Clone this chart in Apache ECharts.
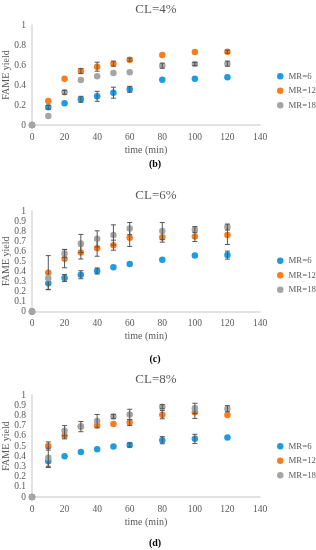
<!DOCTYPE html>
<html><head><meta charset="utf-8">
<script src="https://cdn.jsdelivr.net/npm/echarts@6/dist/echarts.min.js"></script>
<style>html,body{margin:0;padding:0;background:#fff}#c{width:316px;height:550px}</style>
</head><body><div id="c"></div>
<script>
// Data
const times = [0, 10, 20, 30, 40, 50, 60, 80, 100, 120];
const seriesNames = ['MR=6', 'MR=12', 'MR=18'];
const panelTitles = ['CL=4%', 'CL=6%', 'CL=8%'];
const panelCaptions = ['(b)', '(c)', '(d)'];
const xTicks = [0, 20, 40, 60, 80, 100, 120, 140];

// CL=4%
const cl4_mr6  = [0, 0.177, 0.217, 0.257, 0.287, 0.323, 0.357, 0.453, 0.463, 0.477];
const cl4_mr12 = [0, 0.24, 0.463, 0.54, 0.583, 0.613, 0.653, 0.70, 0.73, 0.733];
const cl4_mr18 = [0, 0.09, 0.327, 0.45, 0.487, 0.52, 0.527, 0.593, 0.61, 0.613];
const cl4_mr6_err  = [0, 0.02, 0, 0.03, 0.05, 0.055, 0.03, 0, 0, 0];
const cl4_mr12_err = [0, 0, 0, 0.025, 0.045, 0.025, 0.015, 0, 0, 0.015];
const cl4_mr18_err = [0, 0, 0.02, 0, 0, 0, 0, 0.025, 0.015, 0.025];

// CL=6%
const cl6_mr6  = [0, 0.28, 0.333, 0.366, 0.403, 0.44, 0.473, 0.515, 0.558, 0.561];
const cl6_mr12 = [0, 0.386, 0.525, 0.587, 0.63, 0.66, 0.733, 0.74, 0.746, 0.762];
const cl6_mr18 = [0, 0.33, 0.578, 0.677, 0.723, 0.762, 0.825, 0.80, 0.815, 0.84];
const cl6_mr6_err  = [0, 0.06, 0.035, 0.04, 0.03, 0, 0, 0, 0, 0.04];
const cl6_mr12_err = [0, 0.17, 0.09, 0.065, 0.08, 0.05, 0.085, 0.05, 0.05, 0.095];
const cl6_mr18_err = [0, 0, 0.04, 0.09, 0.08, 0.1, 0.06, 0.085, 0.03, 0.03];

// CL=8%
const cl8_mr6  = [0, 0.351, 0.40, 0.44, 0.469, 0.495, 0.51, 0.557, 0.57, 0.584];
const cl8_mr12 = [0, 0.50, 0.60, 0.69, 0.70, 0.715, 0.73, 0.807, 0.83, 0.803];
const cl8_mr18 = [0, 0.384, 0.65, 0.69, 0.744, 0.79, 0.81, 0.885, 0.869, 0.866];
const cl8_mr6_err  = [0, 0.05, 0, 0, 0, 0, 0.02, 0.035, 0.045, 0];
const cl8_mr12_err = [0, 0.04, 0.03, 0, 0, 0, 0.03, 0.04, 0.06, 0];
const cl8_mr18_err = [0, 0.095, 0.05, 0.05, 0.065, 0.02, 0.05, 0.02, 0.05, 0.03];

const panels = [
  { vals: [cl4_mr6, cl4_mr12, cl4_mr18], errs: [cl4_mr6_err, cl4_mr12_err, cl4_mr18_err], yInterval: 0.2 },
  { vals: [cl6_mr6, cl6_mr12, cl6_mr18], errs: [cl6_mr6_err, cl6_mr12_err, cl6_mr18_err], yInterval: 0.1 },
  { vals: [cl8_mr6, cl8_mr12, cl8_mr18], errs: [cl8_mr6_err, cl8_mr12_err, cl8_mr18_err], yInterval: 0.1 }
];

const colors = ['#1f9be0', '#f97d1e', '#a5a5a5'];
const FONT = '"Liberation Serif", "Times New Roman", serif';
const TXT = '#595959';
const AXIS = '#d9d9d9';

const layout = [
  { top: 25, height: 100, title: 3, cap: 159, legend: 69 },
  { top: 211, height: 100.5, title: 189, cap: 354, legend: 253.5 },
  { top: 395, height: 102, title: 373, cap: 538, legend: 439 }
];

const grids = [], xAxes = [], yAxes = [], series = [], titles = [], legends = [];

panels.forEach((p, gi) => {
  const L = layout[gi];
  grids.push({ left: 32, width: 228, top: L.top, height: L.height, containLabel: false, outerBoundsMode: 'none' });
  xAxes.push({
    gridIndex: gi, type: 'value', min: 0, max: 140, interval: 20,
    name: 'time (min)', nameLocation: 'middle', nameGap: 20,
    nameTextStyle: { fontFamily: FONT, fontSize: 10, color: TXT },
    axisLine: { show: true, lineStyle: { color: AXIS, width: 1.5 } },
    axisTick: { show: false }, splitLine: { show: false },
    axisLabel: { fontFamily: FONT, fontSize: 9.5, color: TXT, margin: 7 }
  });
  yAxes.push({
    gridIndex: gi, type: 'value', min: 0, max: 1, interval: p.yInterval,
    name: 'FAME yield', nameLocation: 'middle', nameGap: 21, nameMoveOverlap: false,
    nameTextStyle: { fontFamily: FONT, fontSize: 10, color: TXT },
    axisLine: { show: true, lineStyle: { color: AXIS, width: 1.5 } },
    axisTick: { show: false }, splitLine: { show: false },
    axisLabel: { fontFamily: FONT, fontSize: 9.5, color: TXT, margin: 6,
      formatter: v => String(Math.round(v * 10) / 10) }
  });
  titles.push({ text: panelTitles[gi], left: 156, textAlign: 'center', top: L.title, padding: 0,
    textStyle: { fontFamily: FONT, fontSize: 13, fontWeight: 'normal', color: TXT } });
  titles.push({ text: panelCaptions[gi], left: 155, textAlign: 'center', top: L.cap, padding: 0,
    textStyle: { fontFamily: FONT, fontSize: 10, fontWeight: 'bold', color: '#000' } });
  legends.push({
    data: seriesNames.map(n => ({ name: n, icon: 'circle' })),
    orient: 'vertical', left: 277, top: L.legend, padding: 0,
    itemWidth: 6.5, itemHeight: 6.5, itemGap: 0, selectedMode: false,
    textStyle: { fontFamily: FONT, fontSize: 8.8, color: TXT, lineHeight: 14.5 }
  });
  p.vals.forEach((vals, si) => {
    series.push({
      name: seriesNames[si], type: 'scatter', xAxisIndex: gi, yAxisIndex: gi,
      symbol: 'circle', symbolSize: 6.5, clip: false,
      itemStyle: { color: colors[si], opacity: 1 },
      data: times.map((t, i) => [t, vals[i]]), z: 2 + si * 2
    });
    series.push({
      name: seriesNames[si] + ' err', type: 'custom', xAxisIndex: gi, yAxisIndex: gi,
      z: 3 + si * 2, silent: true,
      data: times.map((t, i) => [t, vals[i], p.errs[si][i]]),
      renderItem: (params, api) => {
        const x = api.value(0), y = api.value(1), e = api.value(2);
        if (!e) return null;
        const a = api.coord([x, y - e]), b = api.coord([x, y + e]);
        const st = { stroke: '#555', lineWidth: 1 };
        const cw = 2.5;
        return { type: 'group', children: [
          { type: 'line', shape: { x1: a[0], y1: a[1], x2: b[0], y2: b[1] }, style: st },
          { type: 'line', shape: { x1: a[0] - cw, y1: a[1], x2: a[0] + cw, y2: a[1] }, style: st },
          { type: 'line', shape: { x1: b[0] - cw, y1: b[1], x2: b[0] + cw, y2: b[1] }, style: st }
        ]};
      }
    });
  });
});

const chart = echarts.init(document.getElementById('c'), null, { renderer: 'canvas' });
chart.setOption({
  backgroundColor: '#fff', animation: false, color: colors,
  title: titles, legend: legends, grid: grids, xAxis: xAxes, yAxis: yAxes, series: series
});
</script></body></html>
